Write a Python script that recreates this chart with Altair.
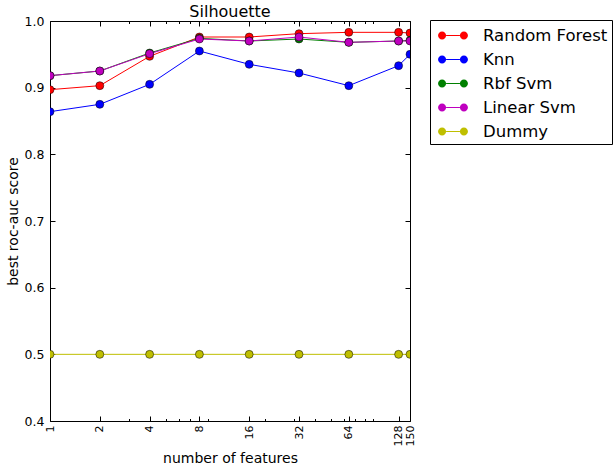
import altair as alt
import pandas as pd

# Number of selected features (log2 x-axis)
features = [1, 2, 4, 8, 16, 32, 64, 128, 150]

# Best ROC-AUC score per classifier
random_forest = [0.897, 0.903, 0.947, 0.976, 0.976, 0.981, 0.983, 0.983, 0.982]
knn = [0.864, 0.875, 0.905, 0.955, 0.935, 0.922, 0.903, 0.933, 0.950]
rbf_svm = [0.918, 0.925, 0.952, 0.974, 0.970, 0.973, 0.968, 0.970, 0.971]
linear_svm = [0.918, 0.925, 0.951, 0.973, 0.970, 0.976, 0.968, 0.970, 0.970]
dummy = [0.500, 0.500, 0.500, 0.500, 0.500, 0.500, 0.500, 0.500, 0.500]

series_names = ["Random Forest", "Knn", "Rbf Svm", "Linear Svm", "Dummy"]
series_colors = ["#ff0000", "#0000ff", "#008000", "#bf00bf", "#bfbf00"]

x_major = [1, 2, 4, 8, 16, 32, 64, 128, 150]
x_minor = [3, 5, 6, 7, 9, 20, 30, 40, 50, 60, 70, 80, 90]
y_major = [0.4, 0.5, 0.6, 0.7, 0.8, 0.9, 1.0]

rows = []
for k, (name, vals) in enumerate(zip(series_names,
                                     [random_forest, knn, rbf_svm, linear_svm, dummy])):
    for f, v in zip(features, vals):
        rows.append({"features": f, "score": v, "model": name, "k": k})
df = pd.DataFrame(rows)

W, H = 360, 400
FONT = "DejaVu Sans"

xscale = alt.Scale(type="log", base=2, domain=[1, 150], nice=False)
yscale = alt.Scale(domain=[0.4, 1.0], nice=False, zero=False)
cscale = alt.Scale(domain=series_names, range=series_colors)

# line with a dot at each end, used as the legend glyph
legend_glyph = (
    "M-1.3,0A0.35,0.35,0,1,0,-0.6,0A0.35,0.35,0,1,0,-1.3,0Z "
    "M0.6,0A0.35,0.35,0,1,0,1.3,0A0.35,0.35,0,1,0,0.6,0Z "
    "M-0.6,-0.045H0.6V0.045H-0.6Z"
)

legend = alt.Legend(
    title=None, orient="none", legendX=380, legendY=-1,
    symbolType=legend_glyph, symbolSize=529, symbolStrokeWidth=0,
    symbolOpacity=1, labelFontSize=16.5, labelFont=FONT,
    labelColor="black", labelOffset=18.5, symbolOffset=7.5,
    padding=4, rowPadding=4, strokeColor="black", fillColor="white",
    labelLimit=400, cornerRadius=0,
)

base = alt.Chart(df)


def xenc(axis):
    return alt.X("features:Q", scale=xscale, axis=axis)


def yenc(axis):
    return alt.Y("score:Q", scale=yscale, axis=axis)


x_main = alt.Axis(
    values=x_major, format="d", labelAngle=270, ticks=False, domain=False,
    labelPadding=4, labelOverlap=False, labelFlush=False, labelFontSize=11,
    title="number of features", titleFontSize=14, titleFontWeight="normal",
    titlePadding=6, grid=False,
)
y_main = alt.Axis(
    values=y_major, format=".1f", ticks=False, domain=False, labelPadding=6,
    labelFontSize=12.5, title="best roc-auc score", titleFontSize=14,
    titleFontWeight="normal", titlePadding=4, grid=False,
)

lines = base.mark_line(strokeWidth=1, clip=True).encode(
    x=xenc(x_main),
    y=yenc(y_main),
    color=alt.Color("model:N", scale=cscale, legend=legend),
    detail="model:N",
    order="features:Q",
)

points = base.mark_point(
    filled=True, size=64, stroke="black", strokeWidth=0.5, opacity=1, clip=True
).encode(
    x=xenc(None),
    y=yenc(None),
    color=alt.Color("model:N", scale=cscale, legend=legend),
    order="k:Q",
)


def tick_axis(orient, values, size, offset):
    return alt.Axis(
        orient=orient, offset=offset, values=values, tickSize=size,
        tickColor="black", tickWidth=1, labels=False, domain=False,
        title=None, grid=False,
    )


# inward ticks on all four sides of the frame
ghost = dict(opacity=0, size=1)
t_bottom = base.mark_point(**ghost).encode(
    x=xenc(tick_axis("top", x_major, 5, -H)),
    y=yenc(tick_axis("right", y_major, 5, -W)),
)
t_top = base.mark_point(**ghost).encode(
    x=xenc(tick_axis("bottom", x_major, 5, -H)),
    y=yenc(tick_axis("left", y_major, 5, -W)),
)
t_bottom_minor = base.mark_point(**ghost).encode(
    x=xenc(tick_axis("top", x_minor, 2.5, -H)),
    y=yenc(None),
)
t_top_minor = base.mark_point(**ghost).encode(
    x=xenc(tick_axis("bottom", x_minor, 2.5, -H)),
    y=yenc(None),
)

chart = (
    alt.layer(lines, points, t_bottom, t_top, t_bottom_minor, t_top_minor)
    .resolve_axis(x="independent", y="independent")
    .properties(
        width=W, height=H,
        title=alt.TitleParams("Silhouette", fontSize=16, fontWeight="normal",
                              font=FONT, anchor="middle", frame="group",
                              offset=3, dy=8, color="black"),
        autosize=alt.AutoSizeParams(type="none"),
        padding={"left": 50, "top": 21, "right": 203, "bottom": 51},
    )
    .configure(font=FONT)
    .configure_view(stroke="black", strokeWidth=1)
    .configure_axis(labelFont=FONT, titleFont=FONT, labelColor="black",
                    titleColor="black")
)

chart.save("out.html", embed_options={"renderer": "svg", "actions": False})
